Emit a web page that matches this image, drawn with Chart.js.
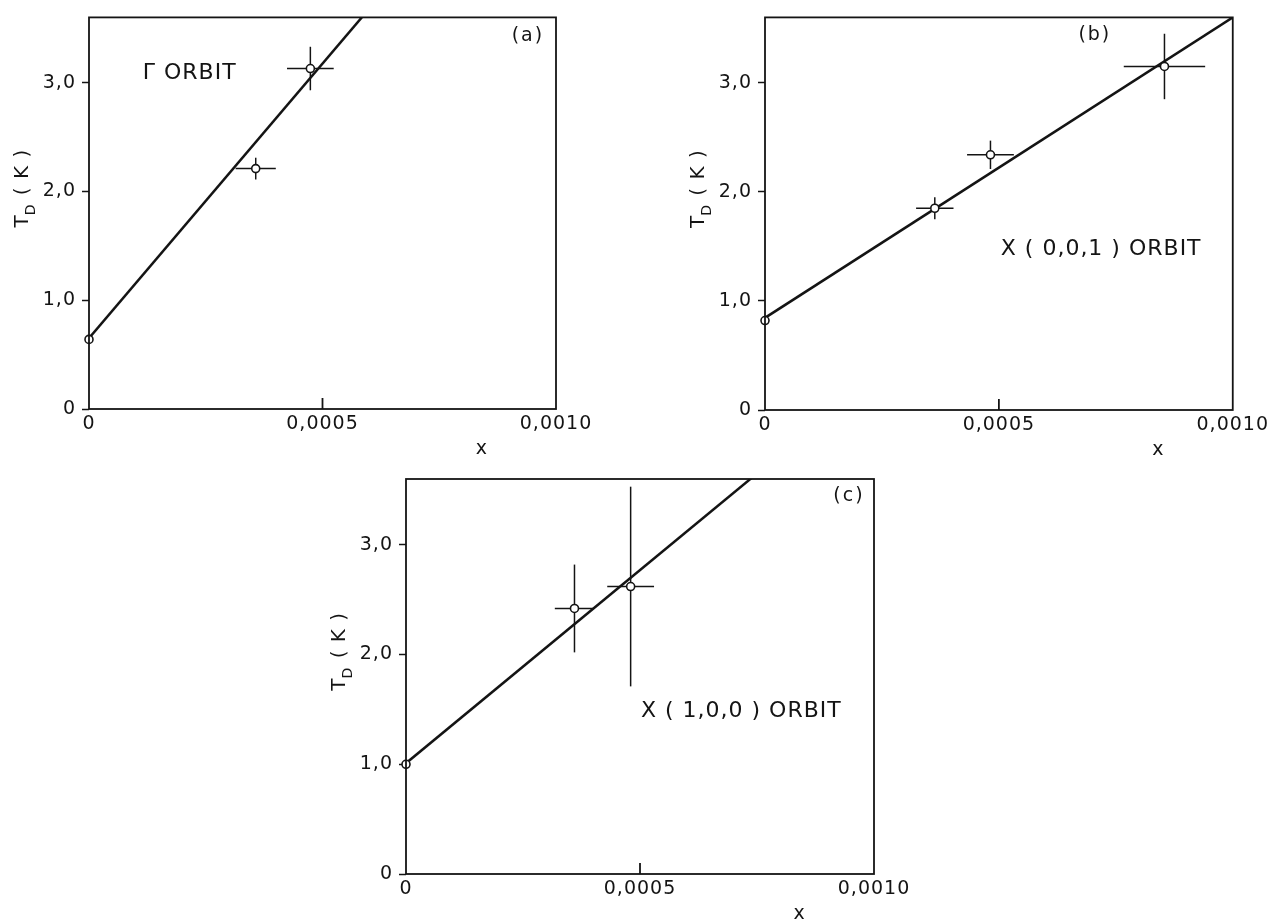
<!DOCTYPE html>
<html>
<head>
<meta charset="utf-8">
<title>T_D vs x</title>
<script src="https://cdn.jsdelivr.net/npm/chart.js@4.4.1/dist/chart.umd.min.js"></script>
<style>
  body { margin: 0; background: #fff; }
  #page { position: relative; width: 1270px; height: 920px; overflow: hidden; }
  canvas { position: absolute; }
</style>
</head>
<body>
<div id="page">
  <canvas id="chartA" width="600" height="470" style="left:0;top:0"></canvas>
  <canvas id="chartB" width="630" height="470" style="left:640px;top:0"></canvas>
  <canvas id="chartC" width="640" height="460" style="left:300px;top:460px"></canvas>
</div>
<script>
// shared axes
const xTicks = [0, 0.0005, 0.001]
const xTickLabels = ['0', '0,0005', '0,0010']
const yTicks = [0, 1, 2, 3]
const yTickLabels = ['0', '1,0', '2,0', '3,0']
const fitX = [0, 0.001]

// (a) Γ orbit
const xA = [0, 0.000357, 0.000474]
const yA = [0.64, 2.21, 3.13]
const xErrA = [0, 0.000043, 0.00005]
const yErrA = [0, 0.1, 0.2]
const fitA = [0.65, 5.70]

// (b) X(0,0,1) orbit
const xB = [0, 0.000363, 0.000482, 0.000854]
const yB = [0.82, 1.85, 2.34, 3.15]
const xErrB = [0, 0.00004, 0.00005, 0.000087]
const yErrB = [0, 0.1, 0.13, 0.3]
const fitB = [0.845, 3.60]

// (c) X(1,0,0) orbit
const xC = [0, 0.00036, 0.00048]
const yC = [1.0, 2.42, 2.62]
const xErrC = [0, 0.000042, 0.00005]
const yErrC = [0, 0.4, 0.91]
const fitC = [1.01, 4.53]

const ink = '#141414'
const family = '"DejaVu Sans", sans-serif'

const makePanel = (id, p) => {
  const decor = {
    id: 'decor' + id,
    beforeDraw: (chart) => { chart.ctx.letterSpacing = '1px' },
    beforeDatasetsDraw: (chart) => {
      const { ctx } = chart
      const sx = chart.scales.x, sy = chart.scales.y
      ctx.save()
      ctx.strokeStyle = ink
      ctx.lineWidth = 1.5
      p.xs.forEach((x, i) => {
        const px = sx.getPixelForValue(x)
        const py = sy.getPixelForValue(p.ys[i])
        if (p.xErr[i]) {
          ctx.beginPath()
          ctx.moveTo(sx.getPixelForValue(x - p.xErr[i]), py)
          ctx.lineTo(sx.getPixelForValue(x + p.xErr[i]), py)
          ctx.stroke()
        }
        if (p.yErr[i]) {
          ctx.beginPath()
          ctx.moveTo(px, sy.getPixelForValue(p.ys[i] - p.yErr[i]))
          ctx.lineTo(px, sy.getPixelForValue(p.ys[i] + p.yErr[i]))
          ctx.stroke()
        }
      })
      ctx.restore()
    },
    afterDraw: (chart) => {
      const { ctx, chartArea: a } = chart
      const sx = chart.scales.x, sy = chart.scales.y
      ctx.save()
      ctx.strokeStyle = ink
      ctx.fillStyle = ink
      ctx.lineWidth = 1.8
      ctx.strokeRect(a.left, a.top, a.right - a.left, a.bottom - a.top)

      // inward tick at mid x
      const tx = sx.getPixelForValue(xTicks[1])
      ctx.beginPath()
      ctx.moveTo(tx, a.bottom)
      ctx.lineTo(tx, a.bottom - 11)
      ctx.stroke()

      // panel letter and orbit name
      ctx.textBaseline = 'middle'
      ctx.textAlign = 'left'
      ctx.letterSpacing = '2px'
      ctx.font = `19px ${family}`
      ctx.fillText(p.tag, sx.getPixelForValue(p.tagAt[0]), sy.getPixelForValue(p.tagAt[1]))
      ctx.font = `22px ${family}`
      ctx.letterSpacing = '1px'
      ctx.fillText(p.name, sx.getPixelForValue(p.nameAt[0]), sy.getPixelForValue(p.nameAt[1]))

      // x title
      ctx.letterSpacing = '0px'
      ctx.textAlign = 'center'
      ctx.font = `19px ${family}`
      ctx.fillText('x', sx.getPixelForValue(0.00084), a.bottom + 40)

      // y title T_D ( K ), rotated
      ctx.translate(a.left - 66, sy.getPixelForValue(2.03))
      ctx.rotate(-Math.PI / 2)
      ctx.textAlign = 'left'
      ctx.letterSpacing = '1px'
      const big = `20px ${family}`, small = `14px ${family}`
      ctx.font = big
      const wT = ctx.measureText('T').width
      const rest = ' ( K )'
      const wR = ctx.measureText(rest).width
      ctx.font = small
      const wD = ctx.measureText('D').width
      let x0 = -(wT + wD + wR) / 2
      ctx.font = big
      ctx.fillText('T', x0, 0)
      ctx.font = small
      ctx.fillText('D', x0 + wT - 1, 8)
      ctx.font = big
      ctx.fillText(rest, x0 + wT + wD, 0)
      ctx.restore()
    }
  }

  return new Chart(document.getElementById(id), {
    type: 'scatter',
    data: {
      datasets: [
        {
          data: p.xs.map((x, i) => ({ x, y: p.ys[i] })),
          pointRadius: 4,
          pointBackgroundColor: '#fff',
          pointBorderColor: ink,
          pointBorderWidth: 1.6,
          clip: false,
          order: 0
        },
        {
          type: 'line',
          data: fitX.map((x, i) => ({ x, y: p.fit[i] })),
          borderColor: ink,
          borderWidth: 2.5,
          pointRadius: 0,
          order: 1
        }
      ]
    },
    options: {
      responsive: false,
      animation: false,
      events: [],
      layout: { padding: p.pad },
      plugins: { legend: { display: false }, tooltip: { enabled: false } },
      scales: {
        x: {
          type: 'linear',
          min: 0,
          max: 0.001,
          afterBuildTicks: (s) => { s.ticks = xTicks.map(v => ({ value: v })) },
          afterFit: (s) => { s.height = p.xh },
          grid: { display: false, drawTicks: false },
          border: { display: false },
          ticks: {
            padding: 4,
            maxRotation: 0,
            autoSkip: false,
            color: ink,
            font: { family, size: 19 },
            callback: (v, i) => xTickLabels[i]
          }
        },
        y: {
          min: 0,
          max: 3.6,
          afterBuildTicks: (s) => { s.ticks = yTicks.map(v => ({ value: v })) },
          afterFit: (s) => { s.width = p.yw },
          grid: { drawOnChartArea: false, tickLength: 7, color: ink, tickWidth: 1.5 },
          border: { display: false },
          ticks: {
            padding: 6,
            color: ink,
            font: { family, size: 19 },
            callback: (v, i) => yTickLabels[i]
          }
        }
      }
    },
    plugins: [decor]
  })
}

makePanel('chartA', {
  xs: xA, ys: yA, xErr: xErrA, yErr: yErrA, fit: fitA,
  tag: '(a)', tagAt: [0.000905, 3.43],
  name: 'Γ ORBIT', nameAt: [0.000115, 3.09],
  pad: { top: 13, right: 44, left: 0, bottom: 0 }, yw: 89, xh: 61
})

makePanel('chartB', {
  xs: xB, ys: yB, xErr: xErrB, yErr: yErrB, fit: fitB,
  tag: '(b)', tagAt: [0.00067, 3.44],
  name: 'X ( 0,0,1 ) ORBIT', nameAt: [0.000504, 1.47],
  pad: { top: 14, right: 37, left: 0, bottom: 0 }, yw: 125, xh: 60
})

makePanel('chartC', {
  xs: xC, ys: yC, xErr: xErrC, yErr: yErrC, fit: fitC,
  tag: '(c)', tagAt: [0.000913, 3.44],
  name: 'X ( 1,0,0 ) ORBIT', nameAt: [0.000502, 1.48],
  pad: { top: 19, right: 66, left: 0, bottom: 0 }, yw: 106, xh: 46
})
</script>
</body>
</html>
